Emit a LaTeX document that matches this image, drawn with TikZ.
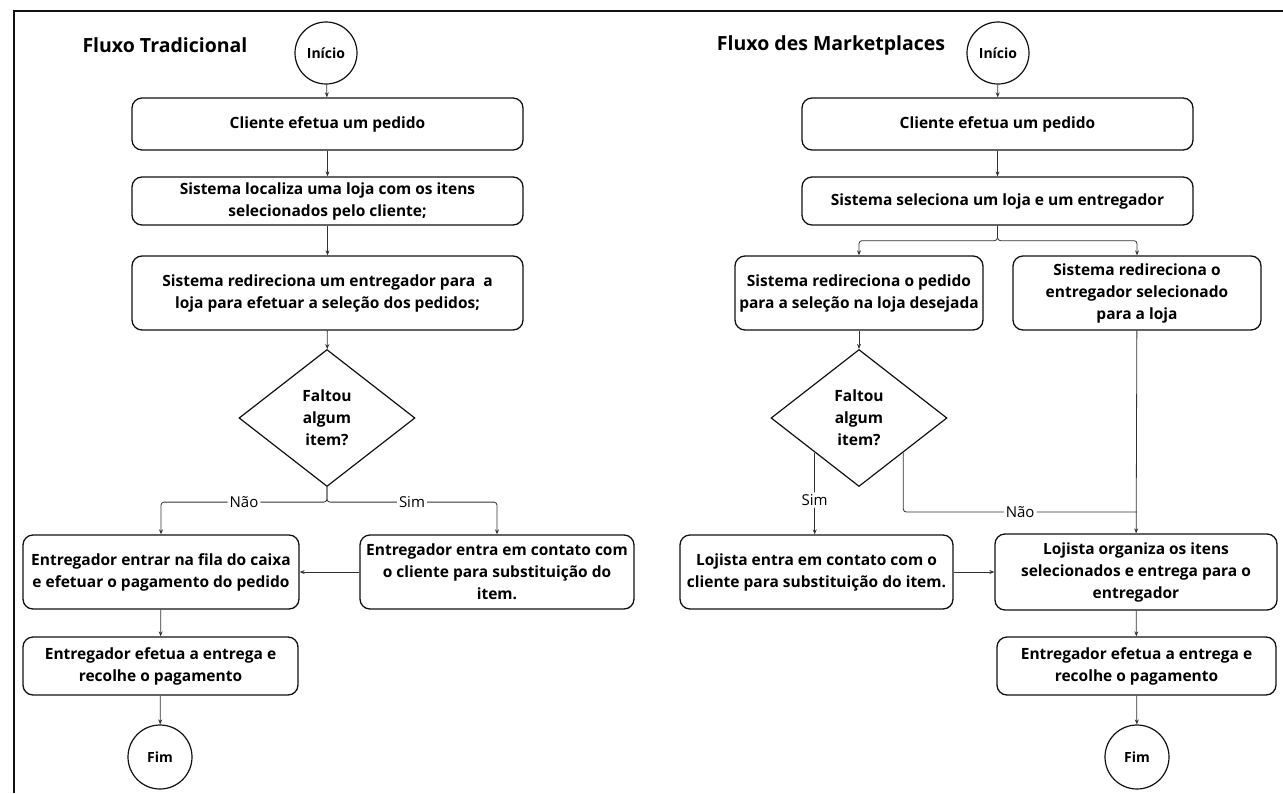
\documentclass[tikz,border=0pt]{standalone}
\usepackage{fontspec}
\setmainfont{Open Sans}
\usepackage{xcolor}
\usepackage{tikz}
\usetikzlibrary{calc,arrows.meta,shapes.geometric}
\definecolor{ink}{HTML}{111111}
\definecolor{wire}{HTML}{333333}
\tikzset{
  etapa/.style={draw=ink, line width=1.3pt, rounded corners=10pt, align=center,
    inner sep=0pt, font=\fontsize{15.5}{22}\selectfont\bfseries},
  terminal/.style={circle, draw=ink, line width=1.2pt, minimum size=62pt, inner sep=0pt,
    font=\fontsize{14}{16}\selectfont\bfseries},
  decisao/.style={diamond, draw=ink, line width=1.2pt, minimum width=176pt, minimum height=137pt,
    inner sep=0pt, align=center, font=\fontsize{15.5}{22}\selectfont\bfseries},
  titulo/.style={font=\fontsize{19.5}{22}\selectfont\bfseries},
  liga/.style={draw=wire, line width=0.8pt, rounded corners=3pt, -{Stealth[length=5pt,width=4pt]}},
  ramo/.style={draw=wire, line width=0.8pt, rounded corners=3pt},
  rot/.style={fill=white, inner sep=2pt, font=\fontsize{15}{17}\selectfont},
}

\begin{document}
\begin{tikzpicture}[x=1pt,y=-1pt]
  \useasboundingbox (0,0) rectangle (1283,793);
  \draw[ink, line width=1.5pt] (1283,11) -- (14,11) -- (14,793);

  % fluxo tradicional
  \node[titulo] (tituloT) at (165,45) {Fluxo Tradicional};
  \node[terminal] (inicioT) at (326,53) {Início};
  \node[etapa, minimum width=391pt, minimum height=52pt] (pedidoT) at (327.5,124) {Cliente efetua um pedido};
  \node[etapa, minimum width=391pt, minimum height=48pt] (lojaT) at (327.5,201)
    {Sistema localiza uma loja com os itens\\selecionados pelo cliente;};
  \node[etapa, minimum width=391pt, minimum height=74pt] (redirT) at (327.5,293)
    {Sistema redireciona um entregador para \ a\\loja para efetuar a seleção dos pedidos;};
  \node[decisao] (faltouT) at (327,418) {Faltou\\algum\\item?};
  \node[etapa, minimum width=276pt, minimum height=74pt] (filaT) at (161,572)
    {Entregador entrar na fila do caixa\\e efetuar o pagamento do pedido};
  \node[etapa, minimum width=274pt, minimum height=74pt] (contatoT) at (497,572)
    {Entregador entra em contato com\\o cliente para substituição do\\item.};
  \node[etapa, minimum width=275pt, minimum height=58pt] (entregaT) at (160.5,666)
    {Entregador efetua a entrega e\\recolhe o pagamento};
  \node[terminal, minimum size=64pt] (fimT) at (160,757) {Fim};

  \draw[liga] (inicioT) -- (pedidoT);
  \draw[liga] (pedidoT) -- (lojaT);
  \draw[liga] (lojaT) -- (redirT);
  \draw[liga] (redirT) -- (faltouT);
  \draw[liga] (faltouT.south) -- ++(0,15) -| node[rot, pos=0.25] {Não} (filaT.north);
  \draw[liga] (faltouT.south) -- ++(0,15) -| node[rot, pos=0.25] {Sim} (contatoT.north);
  \draw[liga] (contatoT) -- (filaT);
  \draw[liga] (filaT) -- (entregaT);
  \draw[liga] (entregaT) -- (fimT);

  % fluxo dos marketplaces
  \node[titulo] (tituloM) at (831,45) {Fluxo des Marketplaces};
  \node[terminal] (inicioM) at (998,53) {Início};
  \node[etapa, minimum width=391pt, minimum height=52pt] (pedidoM) at (997.5,124) {Cliente efetua um pedido};
  \node[etapa, minimum width=391pt, minimum height=48pt] (selM) at (997.5,201)
    {Sistema seleciona um loja e um entregador};
  \node[etapa, minimum width=248pt, minimum height=74pt] (redirM) at (859,293)
    {Sistema redireciona o pedido\\para a seleção na loja desejada};
  \node[etapa, minimum width=248pt, minimum height=74pt] (entregM) at (1137,293)
    {Sistema redireciona o\\entregador selecionado\\para a loja};
  \node[decisao] (faltouM) at (859,418) {Faltou\\algum\\item?};
  \node[etapa, minimum width=273pt, minimum height=74pt] (contatoM) at (816.5,572)
    {Lojista entra em contato com o\\cliente para substituição do item.};
  \node[etapa, minimum width=282pt, minimum height=76pt] (organizaM) at (1136,572)
    {Lojista organiza os itens\\selecionados e entrega para o\\entregador};
  \node[etapa, minimum width=279pt, minimum height=58pt] (entregaM) at (1136.5,666)
    {Entregador efetua a entrega e\\recolhe o pagamento};
  \node[terminal, minimum size=64pt] (fimM) at (1137,757) {Fim};

  \coordinate (simM) at ($(faltouM.west)!0.5!(faltouM.south)$);
  \coordinate (naoM) at ($(faltouM.east)!0.5!(faltouM.south)$);
  \coordinate (juntaM) at (entregM.south |- 0,512);

  \draw[liga] (inicioM) -- (pedidoM);
  \draw[liga] (pedidoM) -- (selM);
  \draw[liga] (selM.south) -- ++(0,15) -| (redirM.north);
  \draw[liga] (selM.south) -- ++(0,15) -| (entregM.north);
  \draw[liga] (redirM) -- (faltouM);
  \draw[liga] (simM) -- node[rot, pos=0.58] {Sim} (simM |- contatoM.north);
  \draw[ramo] (naoM) |- node[rot, pos=0.75] {Não} (juntaM);
  \draw[liga] (entregM) -- (organizaM);
  \draw[liga] (contatoM) -- (organizaM);
  \draw[liga] (organizaM) -- (entregaM);
  \draw[liga] (entregaM) -- (fimM);
\end{tikzpicture}
\end{document}
